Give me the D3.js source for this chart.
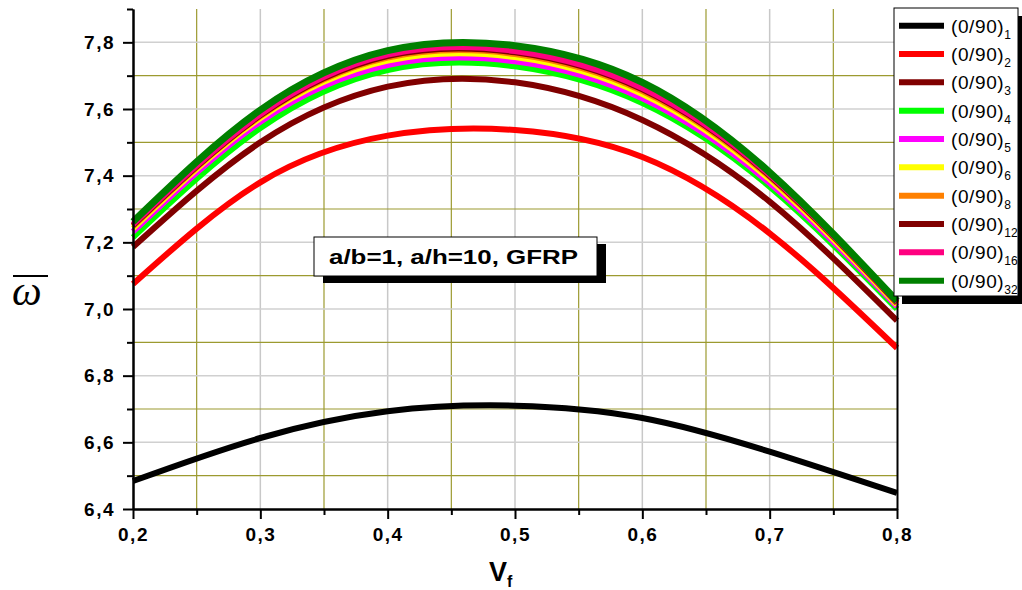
<!DOCTYPE html>
<html lang="en">
<head>
<meta charset="UTF-8">
<script src="https://d3js.org/d3.v7.min.js"></script>
<style>
  body { margin: 0; background: #fff; }
  svg { display: block; }
  .tick text { font-family: "Liberation Sans", Arial, sans-serif; font-weight: bold; font-size: 19px; letter-spacing: 1.5px; fill: #000; }
  .axis path, .axis line { stroke: #000; stroke-width: 2; }
</style>
</head>
<body>
<svg width="1022" height="590"></svg>
<script>
// data
const vf = [0.2, 0.3, 0.4, 0.5, 0.6, 0.7, 0.8];
const seriesNames = ["1", "2", "3", "4", "5", "6", "8", "12", "16", "32"];
const seriesColors = ["#000000", "#ff0000", "#800000", "#00ff00", "#ff00ff", "#ffff00", "#ff8000", "#800000", "#ff0080", "#008000"];
const w1  = [6.484, 6.613, 6.693, 6.710, 6.673, 6.572, 6.448];
const w2  = [7.075, 7.380, 7.520, 7.537, 7.456, 7.227, 6.883];
const w3  = [7.186, 7.500, 7.667, 7.680, 7.567, 7.322, 6.965];
const w4  = [7.215, 7.543, 7.717, 7.728, 7.618, 7.367, 7.000];
const w5  = [7.232, 7.562, 7.732, 7.743, 7.632, 7.378, 7.008];
const w6  = [7.242, 7.573, 7.745, 7.756, 7.645, 7.389, 7.013];
const w8  = [7.248, 7.578, 7.754, 7.765, 7.654, 7.396, 7.017];
const w12 = [7.251, 7.581, 7.759, 7.770, 7.659, 7.400, 7.019];
const w16 = [7.254, 7.584, 7.763, 7.774, 7.663, 7.403, 7.021];
const w32 = [7.262, 7.597, 7.775, 7.790, 7.680, 7.410, 7.024];
const seriesValues = [w1, w2, w3, w4, w5, w6, w8, w12, w16, w32];

const xMajorTicks = [0.2, 0.3, 0.4, 0.5, 0.6, 0.7, 0.8];
const xMinorTicks = [0.25, 0.35, 0.45, 0.55, 0.65, 0.75];
const yMajorTicks = [6.4, 6.6, 6.8, 7.0, 7.2, 7.4, 7.6, 7.8];
const yMinorTicks = [6.5, 6.7, 6.9, 7.1, 7.3, 7.5, 7.7, 7.9];
const boxLabel = "a/b=1, a/h=10, GFRP";

const plotLeft = 133, plotRight = 897, plotTop = 9, plotBottom = 509;
const svg = d3.select("svg");

const xs = d3.scaleLinear().domain([0.2, 0.8]).range([plotLeft, plotRight]);
const ys = d3.scaleLinear().domain([6.4, 7.9]).range([plotBottom, plotTop]);
const fmt = d => d3.format(".1f")(d).replace(".", ",");

// grid
const grid = svg.append("g");
grid.selectAll(".gxM").data(xMajorTicks.slice(1, -1)).enter().append("line")
  .attr("x1", d => xs(d)).attr("x2", d => xs(d)).attr("y1", plotTop).attr("y2", plotBottom)
  .attr("stroke", "#c8c8c8").attr("stroke-width", 1.5);
grid.selectAll(".gxm").data(xMinorTicks).enter().append("line")
  .attr("x1", d => xs(d)).attr("x2", d => xs(d)).attr("y1", plotTop).attr("y2", plotBottom)
  .attr("stroke", "#9c9a30").attr("stroke-width", 1.2);
grid.selectAll(".gyM").data(yMajorTicks.slice(1)).enter().append("line")
  .attr("y1", d => ys(d)).attr("y2", d => ys(d)).attr("x1", plotLeft).attr("x2", plotRight)
  .attr("stroke", "#d0d0d0").attr("stroke-width", 1.5);
grid.selectAll(".gym").data(yMinorTicks.slice(0, -1)).enter().append("line")
  .attr("y1", d => ys(d)).attr("y2", d => ys(d)).attr("x1", plotLeft).attr("x2", plotRight)
  .attr("stroke", "#9c9a30").attr("stroke-width", 1.2);

// curves
const line = d3.line().x((d, i) => xs(vf[i])).y(d => ys(d)).curve(d3.curveNatural);
svg.append("g").selectAll("path").data(seriesValues).enter().append("path")
  .attr("d", d => line(d))
  .attr("fill", "none")
  .attr("stroke", (d, i) => seriesColors[i])
  .attr("stroke-width", (d, i) => i == 9 ? 7 : 6);

// axes
svg.append("g").attr("class", "axis")
  .attr("transform", "translate(" + plotLeft + ",0)")
  .call(d3.axisLeft(ys).tickValues(yMinorTicks).tickSize(6).tickFormat("").tickSizeOuter(0));
svg.append("g").attr("class", "axis")
  .attr("transform", "translate(" + plotLeft + ",0)")
  .call(d3.axisLeft(ys).tickValues(yMajorTicks).tickSize(10).tickPadding(8).tickFormat(fmt).tickSizeOuter(0));
svg.append("g").attr("class", "axis")
  .attr("transform", "translate(0," + plotBottom + ")")
  .call(d3.axisBottom(xs).tickValues(xMinorTicks).tickSize(6).tickFormat("").tickSizeOuter(0));
svg.append("g").attr("class", "axis")
  .attr("transform", "translate(0," + plotBottom + ")")
  .call(d3.axisBottom(xs).tickValues(xMajorTicks).tickSize(10).tickPadding(9).tickFormat(fmt).tickSizeOuter(0));
svg.append("g").attr("class", "axis")
  .attr("transform", "translate(" + plotRight + ",0)")
  .call(d3.axisRight(ys).tickValues([]).tickSizeOuter(0));

// axis titles
const vt = svg.append("text").attr("x", 489).attr("y", 581)
  .attr("font-family", "Liberation Sans, Arial, sans-serif").attr("font-weight", "bold").attr("font-size", 27);
vt.append("tspan").text("V");
vt.append("tspan").attr("font-size", 16).attr("dy", 6).text("f");

svg.append("text").attr("x", 12).attr("y", 305)
  .attr("font-family", "Liberation Serif, Times New Roman, serif").attr("font-style", "italic").attr("font-size", 42)
  .text("ω");
svg.append("line").attr("x1", 13).attr("x2", 48).attr("y1", 276).attr("y2", 276)
  .attr("stroke", "#000").attr("stroke-width", 2);

// annotation box
svg.append("rect").attr("x", 323).attr("y", 244).attr("width", 283).attr("height", 39).attr("fill", "#000");
svg.append("rect").attr("x", 314).attr("y", 237).attr("width", 283).attr("height", 39)
  .attr("fill", "#fff").attr("stroke", "#000").attr("stroke-width", 1);
svg.append("text").attr("x", 329).attr("y", 264)
  .attr("font-family", "Liberation Sans, Arial, sans-serif").attr("font-weight", "bold").attr("font-size", 21)
  .attr("textLength", 249).attr("lengthAdjust", "spacingAndGlyphs")
  .text(boxLabel);

// legend
const lg = svg.append("g");
lg.append("rect").attr("x", 902).attr("y", 16).attr("width", 124).attr("height", 288).attr("fill", "#000");
lg.append("rect").attr("x", 894).attr("y", 8).attr("width", 124).attr("height", 288)
  .attr("fill", "#fff").attr("stroke", "#000").attr("stroke-width", 1);
const ly = d3.scaleLinear().domain([0, 9]).range([25.7, 280.7]);
const items = lg.selectAll(".item").data(seriesNames).enter().append("g")
  .attr("transform", (d, i) => "translate(0," + ly(i) + ")");
items.append("line").attr("x1", 899).attr("x2", 944).attr("y1", 0).attr("y2", 0)
  .attr("stroke", (d, i) => seriesColors[i]).attr("stroke-width", 6);
const lt = items.append("text").attr("x", 951).attr("y", 7)
  .attr("font-family", "Liberation Sans, Arial, sans-serif").attr("font-size", 19).attr("letter-spacing", 0.6);
lt.append("tspan").text("(0/90)");
lt.append("tspan").attr("font-size", 12).attr("dy", 6).attr("letter-spacing", 0).text(d => d);
</script>
</body>
</html>
